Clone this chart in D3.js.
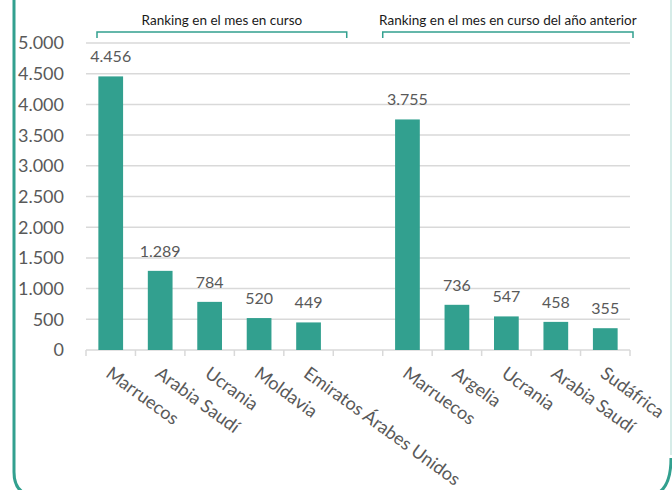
<!DOCTYPE html>
<html>
<head>
<meta charset="utf-8">
<script src="https://cdn.jsdelivr.net/npm/d3@7/dist/d3.min.js"></script>
<style>
  html, body { margin: 0; padding: 0; background: #fff; }
  svg { display: block; font-family: Lato, "Open Sans", sans-serif; }
</style>
</head>
<body>
<svg id="chart" width="672" height="490"></svg>
<script>
// Data
const categories = ["Marruecos", "Arabia Saudí", "Ucrania", "Moldavia", "Emiratos Árabes Unidos", "",
                    "Marruecos", "Argelia", "Ucrania", "Arabia Saudí", "Sudáfrica"];
const values = [4456, 1289, 784, 520, 449, null, 3755, 736, 547, 458, 355];
const yTicks = [0, 500, 1000, 1500, 2000, 2500, 3000, 3500, 4000, 4500, 5000];
const groupTitles = ["Ranking en el mes en curso", "Ranking en el mes en curso del año anterior"];
const groupRanges = [[0, 5], [6, 10]];

const svg = d3.select("#chart");
const teal = "#32a08f";
const grid = "#d9d9d9";
const textGrey = "#595959";

const plotL = 86, plotR = 630, plotT = 43, plotB = 350;
const x = d3.scaleBand().domain(d3.range(categories.length)).range([plotL, plotR]).paddingInner(0.5).paddingOuter(0.25);
const xb = d3.scaleBand().domain(d3.range(categories.length)).range([plotL, plotR]);
const y = d3.scaleLinear().domain([0, 5000]).range([plotB, plotT]);
const fmt = v => d3.format(",")(v).replace(/,/g, ".");

// Frame
const frame = svg.append("g");
frame.append("line").attr("x1", 671).attr("x2", 671).attr("y1", 0).attr("y2", 455)
  .attr("stroke", "#d6ece8").attr("stroke-width", 2);
frame.append("path")
  .attr("d", "M14,0 L14,472 Q14,496 38,496 L646,496 Q671,496 671,458")
  .attr("fill", "none").attr("stroke", teal).attr("stroke-width", 3);

// Gridlines
svg.append("g").selectAll("line").data(yTicks.slice(1)).join("line")
  .attr("x1", plotL).attr("x2", plotR)
  .attr("y1", d => y(d)).attr("y2", d => y(d))
  .attr("stroke", grid).attr("stroke-width", 1.5);

// Y axis labels
svg.append("g").selectAll("text").data(yTicks).join("text")
  .attr("x", 64).attr("y", d => y(d)).attr("dy", "0.36em")
  .attr("text-anchor", "end").attr("fill", textGrey).attr("font-size", 18)
  .text(d => fmt(d));

// X axis line + ticks
const xAxis = svg.append("g");
xAxis.append("line").attr("x1", plotL).attr("x2", plotR).attr("y1", plotB).attr("y2", plotB)
  .attr("stroke", grid).attr("stroke-width", 1.5);
xAxis.selectAll("line.tk").data(d3.range(categories.length + 1)).join("line").attr("class", "tk")
  .attr("x1", i => plotL + i * xb.bandwidth()).attr("x2", i => plotL + i * xb.bandwidth())
  .attr("y1", plotB).attr("y2", plotB + 6)
  .attr("stroke", grid).attr("stroke-width", 1.5);

// Bars
const barData = values.map((v, i) => ({ v, i })).filter(d => d.v != null);
svg.append("g").selectAll("rect").data(barData).join("rect")
  .attr("x", d => x(d.i)).attr("width", x.bandwidth())
  .attr("y", d => y(d.v)).attr("height", d => y(0) - y(d.v))
  .attr("fill", teal);

// Value labels
svg.append("g").selectAll("text").data(barData).join("text")
  .attr("x", d => x(d.i) + x.bandwidth() / 2).attr("y", d => y(d.v) - 14)
  .attr("text-anchor", "middle").attr("fill", textGrey).attr("font-size", 16)
  .text(d => fmt(d.v));

// Category labels
svg.append("g").selectAll("text").data(categories.map((c, i) => ({ c, i })).filter(d => d.c)).join("text")
  .attr("transform", d => `translate(${xb(d.i) + xb.bandwidth() / 2 + 2},${plotB + 15}) rotate(36)`)
  .attr("dy", "0.75em")
  .attr("text-anchor", "start").attr("fill", textGrey).attr("font-size", 18)
  .text(d => d.c);

// Group headers with brackets
const bracketInset = [[11, -36], [0, 3]];
groupTitles.forEach((t, k) => {
  const [a, b] = groupRanges[k];
  const x1 = xb(a) + bracketInset[k][0], x2 = xb(b) + xb.bandwidth() + bracketInset[k][1];
  const g = svg.append("g");
  g.append("path")
    .attr("d", `M${x1},38 L${x1},32 L${x2},32 L${x2},38`)
    .attr("fill", "none").attr("stroke", teal).attr("stroke-width", 1.5);
  g.append("text").attr("x", (x1 + x2) / 2).attr("y", 25)
    .attr("text-anchor", "middle").attr("fill", "#1a1a1a").attr("font-size", 13.5)
    .text(t);
});
</script>
</body>
</html>
